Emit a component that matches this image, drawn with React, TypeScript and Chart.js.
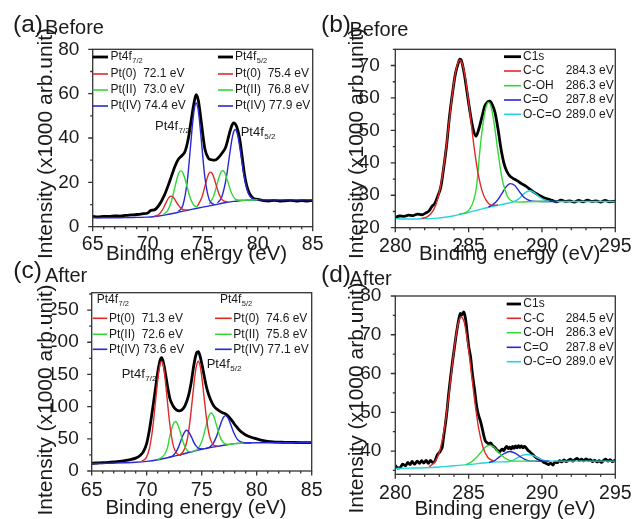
import React, { useEffect, useRef } from "react";
import { Chart, registerables } from "chart.js";
Chart.register(...registerables);

const FONT = "'Liberation Sans', Arial, Helvetica, sans-serif";
const W = 633;
const H = 519;
const INK = "#1a1a1a";
const C_BLACK = "#000000";
const C_RED = "#e02a2a";
const C_GREEN = "#33d833";
const C_BLUE = "#2727d6";
const C_CYAN = "#26d4dc";

type Pt = [number, number];

const Y_TITLE = "Intensity (x1000 arb.unit)";
const X_TITLE = "Binding energy (eV)";

// ---------- tick values ----------
const ptXMajor = [65, 70, 75, 80, 85];
const ptXMinor = [66, 67, 68, 69, 71, 72, 73, 74, 76, 77, 78, 79, 81, 82, 83, 84];
const cXMajor = [280, 285, 290, 295];
const cXMinor = [281, 282, 283, 284, 286, 287, 288, 289, 291, 292, 293, 294];
const aYMajor = [0, 20, 40, 60, 80];
const aYMinor = [10, 30, 50, 70];
const bYMajor = [20, 30, 40, 50, 60, 70];
const bYMinor = [25, 35, 45, 55, 65, 75];
const cYMajor = [0, 50, 100, 150, 200, 250];
const cYMinor = [25, 75, 125, 175, 225, 275];
const dYMajor = [40, 50, 60, 70, 80];
const dYMinor = [35, 45, 55, 65, 75];

// ---------- panel (a) Pt4f before ----------
const aBlack: Pt[] = [[65,4.6],[65.5,4.4],[66,4.7],[66.5,4.6],[67,4.9],[67.5,4.8],[68,5.1],[68.5,5.3],[69,5.5],[69.5,5.8],[70,6.2],[70.3,7.4],[70.6,7.6],[71,9.5],[71.5,14],[72,20.5],[72.5,27.5],[72.8,30.5],[73.1,32],[73.4,34],[73.7,40],[74.0,49.5],[74.2,55.5],[74.4,59.5],[74.6,57],[74.8,50],[75.0,42],[75.2,35],[75.5,31],[75.8,30.2],[76.1,30],[76.4,31],[76.8,33.5],[77.1,36],[77.4,41.5],[77.6,45],[77.8,46.8],[78.1,45],[78.35,40],[78.6,31],[78.8,23.5],[79.0,18.5],[79.25,15],[79.6,12.8],[80,12.3],[80.5,11.8],[81,11.6],[81.5,11.9],[82,11.5],[82.5,11.7],[83,11.9],[83.5,11.5],[84,11.8],[84.5,11.6],[85,11.8]];
const aBase: Pt[] = [[65,4.0],[66,4.0],[67,4.05],[68,4.1],[69,4.2],[70,4.3],[70.5,4.5],[71,4.8],[71.5,5.2],[72,5.7],[72.5,6.2],[73,6.8],[73.5,7.3],[74,7.8],[74.5,8.3],[75,8.8],[75.5,9.3],[76,9.8],[76.5,10.3],[77,10.8],[77.5,11.2],[78,11.5],[78.5,11.8],[79,12.0],[80,12.1],[81,12.1],[82,12.1],[83,12.1],[84,12.1],[85,12.1]];
const aRed1: Pt[] = [[70.6,4.65],[71.0,5.5],[71.4,8.1],[71.7,11.2],[71.9,13.0],[72.1,13.8],[72.3,13.4],[72.5,12.0],[72.8,9.6],[73.2,7.7],[73.6,7.5]];
const aGreen1: Pt[] = [[71.4,5.4],[71.8,7.2],[72.1,10.6],[72.4,16.3],[72.6,20.5],[72.8,23.9],[73.0,25.3],[73.2,24.3],[73.4,21.4],[73.6,17.6],[73.9,12.5],[74.2,9.7],[74.6,8.7]];
const aBlue1: Pt[] = [[72.8,6.9],[73.2,9.7],[73.6,20.6],[73.9,36.6],[74.1,47.6],[74.25,53.5],[74.4,55.8],[74.55,53.9],[74.7,48.2],[74.9,37.6],[75.2,22.2],[75.6,12.1],[76.0,10.1]];
const aRed2: Pt[] = [[74.5,9.2],[74.9,12.9],[75.2,18.2],[75.4,21.8],[75.55,23.8],[75.7,24.6],[75.85,24.1],[76.0,22.4],[76.2,19.2],[76.5,14.5],[76.9,11.6],[77.3,11.2]];
const aGreen2: Pt[] = [[75.6,10.2],[76.0,13.9],[76.3,19.0],[76.5,22.5],[76.65,24.5],[76.8,25.2],[76.95,24.8],[77.1,23.1],[77.3,20.0],[77.6,15.4],[78.0,12.3],[78.4,11.9],[79.0,12.0],[80.0,12.1]];
const aBlue2: Pt[] = [[76.35,10.7],[76.75,13.6],[77.15,22.2],[77.45,32.6],[77.65,39.2],[77.8,42.6],[77.95,43.8],[78.1,42.7],[78.25,39.5],[78.45,33.2],[78.75,23.1],[79.15,15.0],[79.55,12.6],[80.0,12.1]];

// ---------- panel (b) C1s before ----------
const bBlack: Pt[] = [[280,23.2],[280.3,23.6],[280.6,23.5],[280.9,23.9],[281.2,23.7],[281.5,24.2],[281.8,24.0],[282.1,24.6],[282.3,25.2],[282.5,26.6],[282.7,27.5],[282.9,29.8],[283.1,32.5],[283.3,38.5],[283.5,45.5],[283.7,54.5],[283.9,61.5],[284.1,67.5],[284.3,70.8],[284.4,72.0],[284.5,71.6],[284.7,67.5],[284.9,61.5],[285.1,55.5],[285.3,50.5],[285.5,48.2],[285.7,50.5],[285.9,54.0],[286.1,57.5],[286.3,58.8],[286.45,59.0],[286.6,58.0],[286.8,55.5],[287.0,50.5],[287.2,44.5],[287.4,40.0],[287.6,37.4],[287.8,36.0],[288.0,35.3],[288.3,34.5],[288.6,33.6],[288.9,32.8],[289.2,31.8],[289.5,30.8],[289.8,30.0],[290.1,29.3],[290.4,28.8],[290.7,28.4],[291.0,28.0],[291.3,28.5],[291.6,28.1],[291.9,28.3],[292.2,27.9],[292.5,28.4],[292.8,28.0],[293.1,28.5],[293.4,28.1],[293.7,28.3],[294.0,27.9],[294.3,28.4],[294.6,28.0],[295,28.2]];
const bRed: Pt[] = [[281.8,22.9],[282.2,23.4],[282.6,25.4],[282.9,29.0],[283.2,35.8],[283.4,42.2],[283.6,49.9],[283.8,57.8],[284.0,64.9],[284.2,69.8],[284.4,71.7],[284.6,70.1],[284.8,65.5],[285.0,58.7],[285.2,51.2],[285.4,43.9],[285.6,37.8],[285.9,31.6],[286.2,28.4],[286.6,26.9],[287.0,27.0]];
const bGreen: Pt[] = [[284.35,24.2],[284.75,24.6],[285.05,25.6],[285.35,28.5],[285.55,33.0],[285.75,43.0],[285.95,51.0],[286.15,56.5],[286.35,58.7],[286.55,56.9],[286.75,51.8],[286.95,45.1],[287.15,38.7],[287.35,33.7],[287.65,29.6],[287.95,28.2],[288.5,27.9],[289.5,28.1],[290.5,28.1]];
const bBlue: Pt[] = [[286.35,26.4],[286.65,27.1],[286.95,28.4],[287.25,30.4],[287.55,32.6],[287.85,33.6],[288.15,33.0],[288.45,31.2],[288.75,29.5],[289.05,28.6],[289.35,28.2],[290,28.1],[291,28.1]];
const bCyan: Pt[] = [[280,22.8],[280.5,22.7],[281,22.7],[281.5,22.7],[282,22.8],[282.5,22.8],[283,23.0],[283.5,23.3],[284,23.7],[284.5,24.2],[285,24.7],[285.5,25.3],[286,25.9],[286.5,26.4],[287,26.9],[287.5,27.4],[288,27.9],[288.4,28.8],[288.7,30.2],[289.0,31.2],[289.2,31.4],[289.5,30.7],[289.8,29.6],[290.1,28.7],[290.5,28.2],[291,28.1],[292,28.1],[293,28.1],[294,28.1],[295,28.1]];

// ---------- panel (c) Pt4f after ----------
const cBlack: Pt[] = [[65,12],[65.5,12.4],[66,12.8],[66.5,13.3],[67,14.0],[67.5,14.8],[68,16.0],[68.5,17.6],[69,20],[69.4,24],[69.7,30],[70.0,43],[70.25,64],[70.5,92],[70.75,122],[71.0,153],[71.2,171],[71.35,176],[71.5,170],[71.7,152],[71.9,131],[72.1,113],[72.4,101],[72.7,95],[72.95,93.5],[73.2,95],[73.5,102],[73.8,117],[74.05,138],[74.3,166],[74.55,184],[74.7,185.5],[74.9,175],[75.1,159],[75.3,141],[75.5,126],[75.8,111],[76.1,101],[76.5,94.5],[76.9,90.5],[77.2,88.5],[77.5,83.5],[77.8,77],[78.1,70],[78.5,62],[79.0,56],[79.5,52.5],[80.0,50],[80.5,47.5],[81,46],[81.5,45.2],[82,44.8],[82.5,44.6],[83,44.4],[83.5,44.3],[84,44.2],[84.5,44.1],[85,44]];
const cBase: Pt[] = [[65,11.5],[66,11.8],[67,12.2],[68,12.8],[69,13.6],[70,15],[71,17.5],[72,21],[73,25],[74,29.5],[75,33.5],[76,37],[77,40],[78,42.5],[79,43.5],[80,44],[81,44],[82,44],[83,44],[84,44],[85,44]];
const cRed1: Pt[] = [[69.55,15.3],[69.95,20.3],[70.25,35.2],[70.45,54.4],[70.65,82.5],[70.85,116.3],[71.05,147.9],[71.2,164.2],[71.35,170.2],[71.5,164.9],[71.65,147],[71.85,114],[72.05,80],[72.25,54],[72.45,37.5],[72.75,27],[73.15,24.4]];
const cGreen1: Pt[] = [[71.0,17.8],[71.4,21.7],[71.7,28.0],[71.9,37.0],[72.1,54.1],[72.3,67.1],[72.45,74.0],[72.6,76.8],[72.75,74.9],[72.9,68.8],[73.1,57.3],[73.3,45.5],[73.5,36.7],[73.8,30.4],[74.2,29.8]];
const cBlue1: Pt[] = [[72.0,21.2],[72.4,24.2],[72.7,30.6],[72.9,37.5],[73.1,46.6],[73.3,55.6],[73.45,60.6],[73.6,63.2],[73.75,62.1],[73.9,58.4],[74.1,51.6],[74.3,44.1],[74.5,38.6],[74.8,34.7],[75.2,34.4]];
const cRed2: Pt[] = [[72.88,24.3],[73.28,29.2],[73.58,41.2],[73.78,58.1],[73.98,84.0],[74.18,116.3],[74.38,147.7],[74.53,164.2],[74.68,170.6],[74.83,165.4],[74.98,150.1],[75.18,120.3],[75.38,89.5],[75.58,65.2],[75.78,49.9],[76.08,40.3],[76.48,38.5]];
const cGreen2: Pt[] = [[74.25,30.3],[74.65,34.5],[74.95,43.5],[75.15,53.8],[75.35,67.1],[75.55,80.1],[75.7,87.1],[75.85,90.0],[76.0,88.4],[76.15,82.5],[76.35,70.8],[76.55,58.8],[76.75,49.9],[77.05,43.0],[77.45,41.4],[78.0,42.5],[78.8,43.4]];
const cBlue2: Pt[] = [[75.35,34.5],[75.75,37.5],[76.05,43.0],[76.35,53.8],[76.65,69.2],[76.85,78.9],[77.0,83.9],[77.15,86.0],[77.3,84.7],[77.45,80.4],[77.65,71.8],[77.95,58.2],[78.25,49.2],[78.55,45.1],[78.95,43.7],[79.5,43.8]];

// ---------- panel (d) C1s after ----------
const dBlack: Pt[] = [[280,36.3],[280.15,35.6],[280.35,35.8],[280.5,36.6],[280.7,36.2],[280.85,37.1],[281.0,36.5],[281.15,37.3],[281.3,36.6],[281.5,37.4],[281.65,36.8],[281.8,37.5],[281.95,36.9],[282.1,37.6],[282.25,36.8],[282.4,37.6],[282.55,37.0],[282.7,37.4],[282.85,38.9],[283.0,39.6],[283.1,40.2],[283.2,41.0],[283.3,43.8],[283.4,46.5],[283.52,50.2],[283.64,54.8],[283.76,58.8],[283.88,62.5],[284.0,65.8],[284.1,68.6],[284.2,71.2],[284.32,73.8],[284.43,75.5],[284.5,75.0],[284.58,75.4],[284.66,75.9],[284.72,75.4],[284.8,73.8],[284.9,70.5],[285.0,67.2],[285.14,64.0],[285.27,59.5],[285.41,55.7],[285.55,51.5],[285.68,49.2],[285.8,47.8],[285.9,46.3],[286.02,44.2],[286.14,42.6],[286.25,42.2],[286.36,41.9],[286.5,42.1],[286.6,41.6],[286.7,41.2],[286.8,40.9],[286.9,40.4],[287.0,40.1],[287.1,39.7],[287.2,40.2],[287.3,40.5],[287.4,40.1],[287.5,40.8],[287.6,41.2],[287.7,40.6],[287.8,41.0],[287.9,40.5],[288.0,41.2],[288.1,40.7],[288.2,41.3],[288.3,40.8],[288.4,41.4],[288.5,40.9],[288.6,41.3],[288.7,40.8],[288.8,41.2],[288.9,40.9],[289.0,40.4],[289.1,40.0],[289.2,39.7],[289.35,39.2],[289.5,38.6],[289.65,38.2],[289.8,37.9],[290.0,37.5],[290.15,37.0],[290.3,36.8],[290.45,36.5],[290.6,36.9],[290.75,36.4],[290.9,37.2],[291.05,37.0],[291.2,37.5],[291.35,37.2],[291.5,37.7],[291.65,37.3],[291.8,37.6],[291.95,37.9],[292.1,37.4],[292.25,37.8],[292.4,38.1],[292.55,37.6],[292.7,37.9],[292.85,37.5],[293.0,38.0],[293.15,37.6],[293.3,37.8],[293.45,37.3],[293.6,37.6],[293.75,37.2],[293.9,37.5],[294.05,37.1],[294.2,37.6],[294.35,37.9],[294.5,37.4],[294.65,37.8],[294.8,37.3],[295,37.7]];
const dRed: Pt[] = [[282.3,36.0],[282.7,37.2],[283.0,39.7],[283.3,44.8],[283.5,49.9],[283.7,56.0],[283.9,62.7],[284.1,68.7],[284.3,73.1],[284.5,74.6],[284.7,73.2],[284.9,68.9],[285.1,63.0],[285.3,56.5],[285.5,50.5],[285.7,45.5],[286.0,40.7],[286.3,38.4],[286.7,37.4]];
const dGreen: Pt[] = [[284.8,36.5],[285.2,37.2],[285.5,38.2],[285.8,39.5],[286.1,40.9],[286.4,41.5],[286.7,41.1],[287.0,39.9],[287.3,38.7],[287.6,37.9],[288.0,37.4],[289.0,37.4],[289.6,37.4]];
const dBlue: Pt[] = [[286.4,37.05],[286.8,37.6],[287.1,38.5],[287.4,39.3],[287.8,39.9],[288.2,39.4],[288.5,38.6],[288.8,37.9],[289.2,37.4],[289.8,37.4],[290.5,37.4]];
const dCyan: Pt[] = [[280,35.5],[281,35.6],[282,35.7],[283,35.9],[284,36.2],[285,36.5],[286,36.9],[287,37.2],[287.8,37.3],[288.2,38.0],[288.6,38.8],[289.0,39.1],[289.4,38.8],[289.8,38.1],[290.2,37.5],[290.6,37.4],[291.5,37.4],[292.5,37.4],[293.5,37.4],[295,37.4]];

// ---------- legend / label text ----------
const aLegendLeft = ["Pt(0)  72.1 eV", "Pt(II)  73.0 eV", "Pt(IV) 74.4 eV"];
const aLegendRight = ["Pt(0)  75.4 eV", "Pt(II)  76.8 eV", "Pt(IV) 77.9 eV"];
const cLegendLeft = ["Pt(0)  71.3 eV", "Pt(II)  72.6 eV", "Pt(IV) 73.6 eV"];
const cLegendRight = ["Pt(0)  74.6 eV", "Pt(II)  75.8 eV", "Pt(IV) 77.1 eV"];
const cNames = ["C1s", "C-C", "C-OH", "C=O", "O-C=O"];
const bValues = ["", "284.3 eV", "286.3 eV", "287.8 eV", "289.0 eV"];
const dValues = ["", "284.5 eV", "286.3 eV", "287.8 eV", "289.0 eV"];

type TextItem = { t: string; sub?: string; x: number; y: number; size: number; align?: "left" | "right" | "center"; base?: "middle" | "alphabetic"; rot?: boolean };
type LineItem = { x1: number; x2: number; y: number; color: string; w: number };
type Series = { data: Pt[]; color: string; width: number; order: number };
type Spec = {
  area: { left: number; top: number; right: number; bottom: number };
  xMin: number; xMax: number; yMin: number; yMax: number;
  xMajor: number[]; xMinor: number[]; yMajor: number[]; yMinor: number[];
  xPad: number; yPad: number; xSize: number; ySize: number;
  series: Series[]; texts: TextItem[]; lines: LineItem[];
};

const PT_COLORS = [C_RED, C_GREEN, C_BLUE];
const C_COLORS = [C_BLACK, C_RED, C_GREEN, C_BLUE, C_CYAN];
const LEG = 12;
const ANN = 13;
const XT = 20.5;
const YT = 21;

function ptLegend(x1: number, x2: number, tx: number, rows: number[], labels: string[]): { lines: LineItem[]; texts: TextItem[] } {
  const lines: LineItem[] = [];
  const texts: TextItem[] = [];
  labels.forEach((l, i) => {
    lines.push({ x1, x2, y: rows[i], color: PT_COLORS[i], w: 1.6 });
    texts.push({ t: l, x: tx, y: rows[i], size: LEG, base: "middle" });
  });
  return { lines, texts };
}

function cLegend(x1: number, x2: number, tx: number, vx: number, rows: number[], values: string[]) {
  const lines: LineItem[] = [];
  const texts: TextItem[] = [];
  cNames.forEach((n, i) => {
    lines.push({ x1, x2, y: rows[i], color: C_COLORS[i], w: i === 0 ? 2.8 : 1.6 });
    texts.push({ t: n, x: tx, y: rows[i], size: LEG, base: "middle" });
    if (values[i]) texts.push({ t: values[i], x: vx, y: rows[i], size: LEG, base: "middle", align: "right" });
  });
  return { lines, texts };
}

const comp = (data: Pt[], color: string): Series => ({ data, color, width: 1.4, order: 1 });
const blk = (data: Pt[]): Series => ({ data, color: C_BLACK, width: 2.8, order: 3 });
const base = (data: Pt[], color: string): Series => ({ data, color, width: 1.4, order: 2 });

// panel (a)
const aL1 = ptLegend(92.7, 108, 110.5, [74, 90, 106], aLegendLeft);
const aL2 = ptLegend(218, 233, 235, [74, 90, 106], aLegendRight);
const specA: Spec = {
  area: { left: 92.7, top: 49.3, right: 312.7, bottom: 226.7 },
  xMin: 65, xMax: 85, yMin: 0, yMax: 80,
  xMajor: ptXMajor, xMinor: ptXMinor, yMajor: aYMajor, yMinor: aYMinor,
  xPad: -1.7, yPad: 5.4, xSize: 19.5, ySize: 19,
  series: [blk(aBlack), base(aBase, C_BLUE), comp(aRed1, C_RED), comp(aGreen1, C_GREEN), comp(aBlue1, C_BLUE), comp(aRed2, C_RED), comp(aGreen2, C_GREEN), comp(aBlue2, C_BLUE)],
  lines: [{ x1: 92.7, x2: 108, y: 57, color: C_BLACK, w: 2.8 }, { x1: 218, x2: 233, y: 57, color: C_BLACK, w: 2.8 }, ...aL1.lines, ...aL2.lines],
  texts: [
    { t: "(a)", x: 13, y: 31.6, size: 24.5 },
    { t: "Before", x: 45, y: 33.5, size: 20 },
    { t: Y_TITLE, x: 46.5, y: 143.5, size: YT, rot: true },
    { t: X_TITLE, x: 196.5, y: 259.5, size: XT, align: "center" },
    { t: "Pt4f", sub: "7/2", x: 110.5, y: 57, size: LEG, base: "middle" },
    { t: "Pt4f", sub: "5/2", x: 235, y: 57, size: LEG, base: "middle" },
    ...aL1.texts, ...aL2.texts,
    { t: "Pt4f", sub: "7/2", x: 155, y: 126, size: ANN, base: "middle" },
    { t: "Pt4f", sub: "5/2", x: 240.7, y: 132.3, size: ANN, base: "middle" },
  ],
};

// panel (b)
const bL = cLegend(504, 521, 523, 613.7, [56.7, 71, 85.7, 100, 114.3], bValues);
const specB: Spec = {
  area: { left: 395.3, top: 49.3, right: 615.3, bottom: 227.7 },
  xMin: 280, xMax: 295, yMin: 20, yMax: 75,
  xMajor: cXMajor, xMinor: cXMinor, yMajor: bYMajor, yMinor: bYMinor,
  xPad: -1.2, yPad: 7.6, xSize: 19.5, ySize: 19,
  series: [blk(bBlack), base(bCyan, C_CYAN), comp(bRed, C_RED), comp(bGreen, C_GREEN), comp(bBlue, C_BLUE)],
  lines: bL.lines,
  texts: [
    { t: "(b)", x: 321, y: 31.6, size: 24.5 },
    { t: "Before", x: 349.5, y: 36, size: 20 },
    { t: Y_TITLE, x: 357.3, y: 143.5, size: YT, rot: true },
    { t: X_TITLE, x: 509.7, y: 259.5, size: XT, align: "center" },
    ...bL.texts,
  ],
};

// panel (c)
const cL1 = ptLegend(92.7, 107.3, 109, [318.3, 334.3, 349.3], cLegendLeft);
const cL2 = ptLegend(215, 231.7, 233.3, [318.3, 334.3, 349.3], cLegendRight);
const specC: Spec = {
  area: { left: 91.7, top: 292.7, right: 311.7, bottom: 471 },
  xMin: 65, xMax: 85, yMin: 0, yMax: 277,
  xMajor: ptXMajor, xMinor: ptXMinor, yMajor: cYMajor, yMinor: cYMinor,
  xPad: 0, yPad: 5, xSize: 19.5, ySize: 19,
  series: [blk(cBlack), base(cBase, C_BLUE), comp(cRed1, C_RED), comp(cGreen1, C_GREEN), comp(cBlue1, C_BLUE), comp(cRed2, C_RED), comp(cGreen2, C_GREEN), comp(cBlue2, C_BLUE)],
  lines: [...cL1.lines, ...cL2.lines],
  texts: [
    { t: "(c)", x: 13.3, y: 278.3, size: 24.5 },
    { t: "After", x: 45, y: 282, size: 20 },
    { t: Y_TITLE, x: 46, y: 400, size: YT, rot: true },
    { t: X_TITLE, x: 196, y: 514, size: XT, align: "center" },
    { t: "Pt4f", sub: "7/2", x: 96.7, y: 300, size: LEG, base: "middle" },
    { t: "Pt4f", sub: "5/2", x: 220, y: 300, size: LEG, base: "middle" },
    ...cL1.texts, ...cL2.texts,
    { t: "Pt4f", sub: "7/2", x: 121.7, y: 374.3, size: ANN, base: "middle" },
    { t: "Pt4f", sub: "5/2", x: 206.7, y: 364.3, size: ANN, base: "middle" },
  ],
};

// panel (d)
const dL = cLegend(506.7, 521, 523.3, 613.7, [304, 318.3, 332.7, 347.3, 361.7], dValues);
const specD: Spec = {
  area: { left: 395.3, top: 296, right: 615.3, bottom: 474.3 },
  xMin: 280, xMax: 295, yMin: 34, yMax: 80,
  xMajor: cXMajor, xMinor: cXMinor, yMajor: dYMajor, yMinor: dYMinor,
  xPad: -0.8, yPad: 6, xSize: 19.5, ySize: 19,
  series: [blk(dBlack), base(dCyan, C_CYAN), comp(dRed, C_RED), comp(dGreen, C_GREEN), comp(dBlue, C_BLUE)],
  lines: dL.lines,
  texts: [
    { t: "(d)", x: 321, y: 281.6, size: 24.5 },
    { t: "After", x: 349.5, y: 285.3, size: 20 },
    { t: Y_TITLE, x: 357.7, y: 398, size: YT, rot: true },
    { t: X_TITLE, x: 505, y: 515, size: XT, align: "center" },
    ...dL.texts,
  ],
};

function drawText(ctx: CanvasRenderingContext2D, it: TextItem) {
  ctx.save();
  ctx.fillStyle = INK;
  ctx.font = `${it.size}px ${FONT}`;
  if (it.rot) {
    ctx.translate(it.x, it.y);
    ctx.rotate(-Math.PI / 2);
    ctx.textAlign = "center";
    ctx.textBaseline = "middle";
    ctx.fillText(it.t, 0, 0);
    ctx.restore();
    return;
  }
  ctx.textBaseline = it.base || "alphabetic";
  ctx.textAlign = "left";
  const w = ctx.measureText(it.t).width;
  const subSize = it.size * 0.62;
  let subW = 0;
  if (it.sub) {
    ctx.font = `${subSize}px ${FONT}`;
    subW = ctx.measureText(it.sub).width + 0.5;
    ctx.font = `${it.size}px ${FONT}`;
  }
  let x = it.x;
  if (it.align === "right") x -= w + subW;
  else if (it.align === "center") x -= (w + subW) / 2;
  ctx.fillText(it.t, x, it.y);
  if (it.sub) {
    ctx.font = `${subSize}px ${FONT}`;
    ctx.fillText(it.sub, x + w + 0.5, it.y + it.size * 0.36);
  }
  ctx.restore();
}

function makeConfig(spec: Spec): any {
  const YW = 40;
  const XH = 30;
  const a = spec.area;
  const frame = {
    id: "frame",
    afterDatasetsDraw(chart: any) {
      const { ctx, chartArea: ca, scales } = chart;
      const xs = scales.x;
      const ys = scales.y;
      ctx.save();
      ctx.strokeStyle = "#333";
      ctx.lineWidth = 1.3;
      ctx.strokeRect(ca.left, ca.top, ca.right - ca.left, ca.bottom - ca.top);
      ctx.beginPath();
      spec.xMajor.forEach((v) => { const p = xs.getPixelForValue(v); ctx.moveTo(p, ca.bottom); ctx.lineTo(p, ca.bottom + 4.5); });
      spec.xMinor.forEach((v) => { const p = xs.getPixelForValue(v); ctx.moveTo(p, ca.bottom); ctx.lineTo(p, ca.bottom + 2.5); });
      spec.yMajor.forEach((v) => { const p = ys.getPixelForValue(v); ctx.moveTo(ca.left, p); ctx.lineTo(ca.left - 4.5, p); });
      spec.yMinor.forEach((v) => { const p = ys.getPixelForValue(v); ctx.moveTo(ca.left, p); ctx.lineTo(ca.left - 2.5, p); });
      ctx.stroke();
      ctx.restore();
    },
  };
  const overlay = {
    id: "overlay",
    afterDraw(chart: any) {
      const ctx = chart.ctx as CanvasRenderingContext2D;
      spec.lines.forEach((l) => {
        ctx.save();
        ctx.strokeStyle = l.color;
        ctx.lineWidth = l.w;
        ctx.beginPath();
        ctx.moveTo(l.x1, l.y);
        ctx.lineTo(l.x2, l.y);
        ctx.stroke();
        ctx.restore();
      });
      spec.texts.forEach((t) => drawText(ctx, t));
    },
  };
  return {
    type: "line",
    data: {
      datasets: spec.series.map((s) => ({
        data: s.data.map(([x, y]) => ({ x, y })),
        borderColor: s.color,
        borderWidth: s.width,
        pointRadius: 0,
        fill: false,
        cubicInterpolationMode: "monotone",
        order: s.order,
        borderJoinStyle: "round",
      })),
    },
    options: {
      animation: false,
      responsive: false,
      devicePixelRatio: 1,
      events: [],
      layout: { padding: { left: a.left - YW, top: a.top, right: W - a.right, bottom: H - a.bottom - XH } },
      plugins: { legend: { display: false }, tooltip: { enabled: false }, title: { display: false } },
      scales: {
        x: {
          type: "linear", min: spec.xMin, max: spec.xMax,
          afterFit: (s: any) => { s.height = XH; },
          afterBuildTicks: (s: any) => { s.ticks = spec.xMajor.map((v) => ({ value: v })); },
          grid: { display: false }, border: { display: false },
          ticks: { color: INK, padding: spec.xPad, maxRotation: 0, autoSkip: false, font: { family: FONT, size: spec.xSize }, callback: (v: any) => String(v) },
        },
        y: {
          type: "linear", min: spec.yMin, max: spec.yMax,
          afterFit: (s: any) => { s.width = YW; },
          afterBuildTicks: (s: any) => { s.ticks = spec.yMajor.map((v) => ({ value: v })); },
          grid: { display: false }, border: { display: false },
          ticks: { color: INK, padding: spec.yPad, autoSkip: false, font: { family: FONT, size: spec.ySize }, callback: (v: any) => String(v) },
        },
      },
    },
    plugins: [frame, overlay],
  };
}

function Panel({ spec }: { spec: Spec }) {
  const ref = useRef<HTMLCanvasElement>(null);
  useEffect(() => {
    if (!ref.current) return;
    const chart = new Chart(ref.current, makeConfig(spec));
    return () => chart.destroy();
  }, [spec]);
  return <canvas ref={ref} width={W} height={H} style={{ position: "absolute", left: 0, top: 0, width: W, height: H }} />;
}

export default function App() {
  return (
    <div style={{ position: "absolute", left: 0, top: 0, width: W, height: H, background: "#fff", overflow: "hidden" }}>
      <Panel spec={specA} />
      <Panel spec={specB} />
      <Panel spec={specC} />
      <Panel spec={specD} />
    </div>
  );
}
